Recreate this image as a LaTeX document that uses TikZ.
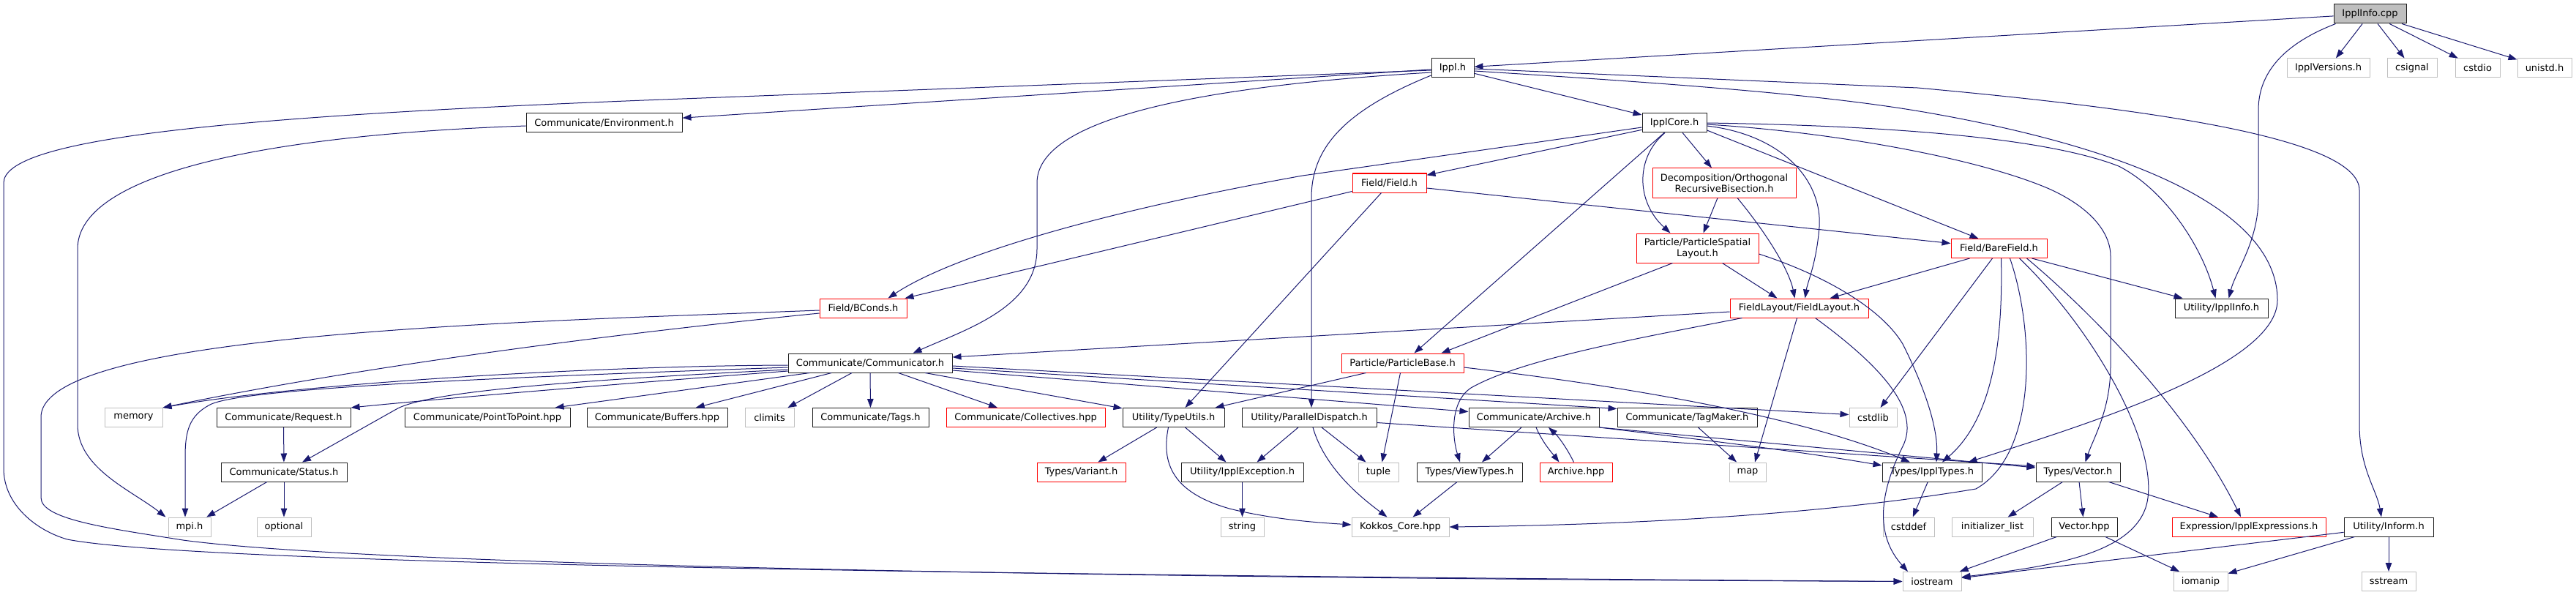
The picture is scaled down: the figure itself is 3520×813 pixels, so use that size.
\documentclass[tikz,border=0pt]{standalone}
\usepackage{fontspec}
\newfontfamily\dv{DejaVu Sans}
\usetikzlibrary{arrows.meta}
\definecolor{edgeblue}{HTML}{191970}
\definecolor{extgray}{HTML}{BFBFBF}
\definecolor{docgray}{HTML}{202020}
\begin{document}
\begin{tikzpicture}[x=1pt,y=-1pt,
 base/.style={rectangle, inner sep=0pt, minimum height=26pt, line width=1pt, fill=white, font=\dv\fontsize{13}{15}\selectfont, text=black},
 docn/.style={base, draw=docgray},
 trn/.style={base, draw=red},
 extn/.style={base, draw=extgray},
 rootn/.style={base, draw=docgray, fill=extgray},
 edge/.style={draw=edgeblue, line width=1pt, -{Triangle[length=12pt,width=8.5pt]}},
]
\fill[white] (0,0) rectangle (3520,813);
\useasboundingbox (0,0) rectangle (3520,813);

% rows 0-6
\node[rootn, minimum width=99pt] (root) at (3238.5,19) {IpplInfo.cpp};
\node[docn, minimum width=58pt] (ippl) at (1985,93) {Ippl.h};
\node[extn, minimum width=113pt] (iversions) at (3181.5,93) {IpplVersions.h};
\node[extn, minimum width=68pt] (csignal) at (3296,93) {csignal};
\node[extn, minimum width=61pt] (cstdio) at (3385.5,93) {cstdio};
\node[extn, minimum width=74pt] (unistd) at (3477,93) {unistd.h};
\node[docn, minimum width=213pt] (env) at (825.5,168) {Communicate/Environment.h};
\node[docn, minimum width=88pt] (core) at (2288,168) {IpplCore.h};
\node[trn, minimum width=101pt] (field) at (1898.5,250) {Field/Field.h};
\node[trn, minimum width=196pt, minimum height=40pt, align=center] (decomp) at (2356,250) {Decomposition/Orthogonal\\RecursiveBisection.h};
\node[trn, minimum width=167pt, minimum height=40pt, align=center] (psl) at (2319.5,339) {Particle/ParticleSpatial\\Layout.h};
\node[trn, minimum width=131pt] (bfield) at (2731.5,339.5) {Field/BareField.h};
\node[trn, minimum width=119pt] (bconds) at (1179.5,421) {Field/BConds.h};
\node[trn, minimum width=189pt] (flayout) at (2458.5,421) {FieldLayout/FieldLayout.h};
\node[docn, minimum width=127pt] (iinfo) at (3035.5,421) {Utility/IpplInfo.h};
\node[docn, minimum width=224pt] (comm) at (1189,496) {Communicate/Communicator.h};
\node[trn, minimum width=167pt] (pbase) at (1916.5,496) {Particle/ParticleBase.h};
% row 7
\node[extn, minimum width=79pt] (memory) at (182.5,570.5) {memory};
\node[docn, minimum width=183pt] (request) at (387.5,570.5) {Communicate/Request.h};
\node[docn, minimum width=226pt] (ptp) at (666,570.5) {Communicate/PointToPoint.hpp};
\node[docn, minimum width=192pt] (buffers) at (898,570.5) {Communicate/Buffers.hpp};
\node[extn, minimum width=67pt] (climits) at (1051.5,570.5) {climits};
\node[docn, minimum width=159pt] (tags) at (1189.5,570.5) {Communicate/Tags.h};
\node[trn, minimum width=217pt] (coll) at (1401.5,570.5) {Communicate/Collectives.hpp};
\node[docn, minimum width=139pt] (tutils) at (1603.5,570.5) {Utility/TypeUtils.h};
\node[docn, minimum width=184pt] (pdisp) at (1789,570.5) {Utility/ParallelDispatch.h};
\node[docn, minimum width=178pt] (archh) at (2096,570.5) {Communicate/Archive.h};
\node[docn, minimum width=191pt] (tagmaker) at (2305.5,570.5) {Communicate/TagMaker.h};
\node[extn, minimum width=65pt] (cstdlib) at (2559.5,570.5) {cstdlib};
% row 8
\node[docn, minimum width=172pt] (status) at (388,645) {Communicate/Status.h};
\node[trn, minimum width=121pt] (variant) at (1477.5,645) {Types/Variant.h};
\node[docn, minimum width=167pt] (iexc) at (1697.5,645) {Utility/IpplException.h};
\node[extn, minimum width=55pt] (tuple) at (1883.5,645) {tuple};
\node[docn, minimum width=144pt] (vtypes) at (2008,645) {Types/ViewTypes.h};
\node[trn, minimum width=99pt] (archhpp) at (2153.5,645) {Archive.hpp};
\node[extn, minimum width=50pt] (map) at (2388,645) {map};
\node[docn, minimum width=136pt] (itypes) at (2640,645) {Types/IpplTypes.h};
\node[docn, minimum width=115pt] (vech) at (2839.5,645) {Types/Vector.h};
% row 9
\node[extn, minimum width=58pt] (mpi) at (259,720) {mpi.h};
\node[extn, minimum width=74pt] (optional) at (388,720) {optional};
\node[extn, minimum width=59pt] (string) at (1697.5,720) {string};
\node[extn, minimum width=133pt] (kokkos) at (1913.5,720) {Kokkos\_Core.hpp};
\node[extn, minimum width=70pt] (cstddef) at (2608,720) {cstddef};
\node[extn, minimum width=111pt] (initl) at (2722.5,720) {initializer\_list};
\node[docn, minimum width=90pt] (vechpp) at (2848,720) {Vector.hpp};
\node[trn, minimum width=210pt] (iexpr) at (3073,720) {Expression/IpplExpressions.h};
\node[docn, minimum width=122pt] (inform) at (3264,720) {Utility/Inform.h};
% row 10
\node[extn, minimum width=80pt] (iostream) at (2640,794.5) {iostream};
\node[extn, minimum width=74pt] (iomanip) at (3007,794.5) {iomanip};
\node[extn, minimum width=74pt] (sstream) at (3264,794.5) {sstream};

% ---- edges: IpplInfo.cpp
\draw[edge] (root) -- (ippl);
\draw[edge] (root) -- (iversions);
\draw[edge] (root) -- (csignal);
\draw[edge] (root) -- (cstdio);
\draw[edge] (root) -- (unistd);
\draw[edge] ([xshift=3pt]root.south west) .. controls (3120,60) and (3086,100) .. (3086,150) -- (3086,270) .. controls (3086,330) and (3055,370) .. ([xshift=10pt]iinfo.north);

% ---- Ippl.h
\draw[edge] (ippl) -- (env);
\draw[edge] (ippl) -- (core);
\draw[edge] ([yshift=-3pt]ippl.west) -- (880,137) .. controls (300,160) and (5,190) .. (5,250) -- (5,640) .. controls (5,690) and (50,725) .. (92,737) .. controls (250,768) and (1200,785) .. (iostream.west);
\draw[edge] ([yshift=-6pt]ippl.west) .. controls (1600,120) and (1417,170) .. (1417,250) -- (1417,340) .. controls (1417,420) and (1320,450) .. ([xshift=-54pt]comm.north east);
\draw[edge] ([yshift=-10pt]ippl.west) .. controls (1840,150) and (1792,200) .. (1792,270) -- ([xshift=3pt]pdisp.north);
\draw[edge] ([yshift=-4pt]ippl.east) .. controls (2300,115) and (2500,130) .. (2640,155) .. controls (2950,210) and (3112,300) .. (3112,410) .. controls (3112,500) and (2850,580) .. ([xshift=-19pt]itypes.north east);
\draw[edge] ([yshift=-1pt]ippl.east) -- (2620,120) .. controls (2950,150) and (3224,190) .. (3224,260) -- (3224,580) .. controls (3224,640) and (3248,670) .. ([xshift=-10pt]inform.north);
\draw[edge] ([yshift=-4pt]env.west) .. controls (350,185) and (106,240) .. (106,340) -- (106,580) .. controls (106,640) and (180,670) .. ([xshift=-3pt]mpi.north west);

% ---- IpplCore.h
\draw[edge] (core) -- (field);
\draw[edge] ([yshift=-6pt]core.west) -- (1780,240) .. controls (1500,290) and (1300,350) .. ([xshift=-26pt]bconds.north east);
\draw[edge] (core) -- (decomp);
\draw[edge] ([xshift=-13pt]core.south) .. controls (2235,215) and (2235,275) .. ([xshift=-37pt]psl.north);
\draw[edge] ([xshift=-14pt]core.south) -- ([xshift=16pt]pbase.north);
\draw[edge] ([yshift=-4pt]core.east) .. controls (2440,185) and (2490,250) .. (2486,310) .. controls (2482,360) and (2470,385) .. ([xshift=8pt]flayout.north);
\draw[edge] ([yshift=-10pt]core.east) -- ([xshift=-28pt]bfield.north);
\draw[edge] (core.east) .. controls (2600,172) and (2800,190) .. (2895,227) .. controls (2960,260) and (3010,340) .. ([xshift=-8pt]iinfo.north);
\draw[edge] ([yshift=-2pt]core.east) .. controls (2500,180) and (2700,215) .. (2800,258) .. controls (2860,285) and (2884,320) .. (2884,350) -- (2884,500) .. controls (2884,560) and (2860,600) .. ([xshift=10pt]vech.north);

% ---- Field, Decomposition, PSL
\draw[edge] ([yshift=2pt]field.south west) -- ([xshift=-3pt]bconds.north east);
\draw[edge] ([yshift=-7pt]field.east) -- ([yshift=7pt]bfield.west);
\draw[edge] ([xshift=-11pt]field.south) -- ([xshift=16pt]tutils.north);
\draw[edge] ([xshift=-9pt]decomp.south) -- ([xshift=8pt]psl.north);
\draw[edge] ([xshift=18pt]decomp.south) .. controls (2415,320) and (2445,370) .. ([xshift=-6pt]flayout.north);
\draw[edge] ([xshift=34pt]psl.south) -- ([xshift=-30pt]flayout.north);
\draw[edge] ([xshift=-34pt]psl.south) -- ([xshift=53pt]pbase.north);
\draw[edge] ([yshift=-8pt]psl.east) .. controls (2490,375) and (2570,420) .. (2600,470) .. controls (2635,540) and (2648,590) .. ([xshift=6pt]itypes.north);

% ---- BareField
\draw[edge] ([xshift=-40pt]bfield.south) -- ([xshift=42pt]flayout.north);
\draw[edge] ([xshift=-9pt]bfield.south) -- ([xshift=10pt]cstdlib.north);
\draw[edge] ([xshift=3pt]bfield.south) .. controls (2737,460) and (2725,570) .. ([xshift=14pt]itypes.north);
\draw[edge] ([xshift=15pt]bfield.south) .. controls (2780,450) and (2785,620) .. (2700,668) .. controls (2450,710) and (2150,718) .. (kokkos.east);
\draw[edge] ([xshift=28pt]bfield.south) .. controls (2860,450) and (2945,600) .. (2935,680) .. controls (2925,760) and (2790,775) .. ([yshift=6pt]iostream.east);
\draw[edge] ([xshift=38pt]bfield.south) .. controls (2850,420) and (2990,560) .. ([xshift=-11pt]iexpr.north);
\draw[edge] ([xshift=45pt]bfield.south) -- ([xshift=-53pt]iinfo.north);

% ---- FieldLayout
\draw[edge] ([yshift=-5pt]flayout.west) -- ([yshift=8pt]comm.east);
\draw[edge] ([xshift=-78pt]flayout.south) .. controls (2250,460) and (2080,490) .. (2010,530) .. controls (1980,550) and (1985,600) .. ([xshift=-13pt]vtypes.north);
\draw[edge] ([xshift=-3pt]flayout.south) -- ([xshift=10pt]map.north);
\draw[edge] ([xshift=22pt]flayout.south) .. controls (2570,500) and (2625,560) .. (2600,610) .. controls (2560,690) and (2570,740) .. ([xshift=-33pt]iostream.north);

% ---- BConds
\draw[edge] ([yshift=-3pt]bconds.west) -- (880,433) .. controls (450,450) and (56,480) .. (56,570) -- (56,680) .. controls (56,710) and (150,722) .. (250,738) .. controls (500,772) and (1500,790) .. (iostream.west);
\draw[edge] ([yshift=-7pt]bconds.west) .. controls (700,470) and (400,520) .. (memory.north east);

% ---- Communicator
\draw[edge] ([yshift=-3pt]comm.west) .. controls (800,500) and (400,525) .. (memory.north east);
\draw[edge] ([yshift=-6pt]comm.west) .. controls (700,515) and (330,530) .. (287,553) .. controls (258,568) and (253,590) .. (253,625) -- ([xshift=-6pt]mpi.north);
\draw[edge] ([yshift=-9pt]comm.west) .. controls (780,520) and (580,535) .. (540,560) -- ([xshift=25pt]status.north);
\draw[edge] ([yshift=-11pt]comm.west) .. controls (800,528) and (600,545) .. (request.north east);
\draw[edge] ([xshift=30pt]comm.south west) -- ([xshift=-21pt]ptp.north east);
\draw[edge] (comm) -- (buffers);
\draw[edge] (comm) -- (climits);
\draw[edge] (comm) -- (tags);
\draw[edge] (comm) -- (coll);
\draw[edge] (comm) -- (tutils);
\draw[edge] ([yshift=-10pt]comm.east) -- ([yshift=8pt]archh.west);
\draw[edge] ([yshift=-7pt]comm.east) -- ([yshift=12pt]tagmaker.west);
\draw[edge] ([yshift=-4pt]comm.east) -- ([yshift=4pt]cstdlib.west);

% ---- ParticleBase
\draw[edge] ([xshift=-50pt]pbase.south) -- ([xshift=-13pt]tutils.north east);
\draw[edge] ([xshift=-3pt]pbase.south) -- ([xshift=5pt]tuple.north);
\draw[edge] ([yshift=-6pt]pbase.east) .. controls (2200,525) and (2450,565) .. ([xshift=-30pt]itypes.north);

% ---- TypeUtils, ParallelDispatch
\draw[edge] (tutils) -- (variant);
\draw[edge] ([xshift=16pt]tutils.south) -- ([xshift=-22pt]iexc.north);
\draw[edge] ([xshift=-7pt]tutils.south) .. controls (1585,640) and (1610,675) .. (1680,695) .. controls (1740,710) and (1800,714) .. ([yshift=3pt]kokkos.west);
\draw[edge] ([xshift=-15pt]pdisp.south) -- ([xshift=20pt]iexc.north);
\draw[edge] ([xshift=17pt]pdisp.south) -- ([xshift=-17pt]tuple.north);
\draw[edge] ([xshift=5pt]pdisp.south) .. controls (1810,640) and (1860,680) .. ([xshift=-18pt]kokkos.north);
\draw[edge] ([yshift=-7pt]pdisp.east) -- ([yshift=8pt]vech.west);

% ---- Archive
\draw[edge] ([xshift=-17pt]archh.south) -- ([xshift=17pt]vtypes.north);
\draw[edge] ([xshift=3pt]archh.south) .. controls (2108,605) and (2120,618) .. ([xshift=-23pt]archhpp.north);
\draw[edge] ([xshift=-3pt]archhpp.north) .. controls (2140,610) and (2128,595) .. ([xshift=20pt]archh.south);
\draw[edge] (archh.south east) -- ([yshift=6pt]vech.west);
\draw[edge] (archh.south east) .. controls (2300,598) and (2450,615) .. ([yshift=9pt]itypes.west);

% ---- remaining
\draw[edge] (tagmaker) -- (map);
\draw[edge] (vtypes) -- (kokkos);
\draw[edge] (iexc) -- (string);
\draw[edge] (itypes) -- (cstddef);
\draw[edge] (vech) -- (initl);
\draw[edge] (vech) -- (vechpp);
\draw[edge] (vech) -- (iexpr);
\draw[edge] (vechpp) -- (iostream);
\draw[edge] (vechpp) -- (iomanip);
\draw[edge] (inform) -- (iostream);
\draw[edge] (inform) -- (iomanip);
\draw[edge] (inform) -- (sstream);
\draw[edge] (request) -- (status);
\draw[edge] (status) -- (mpi);
\draw[edge] (status) -- (optional);
\end{tikzpicture}
\end{document}
